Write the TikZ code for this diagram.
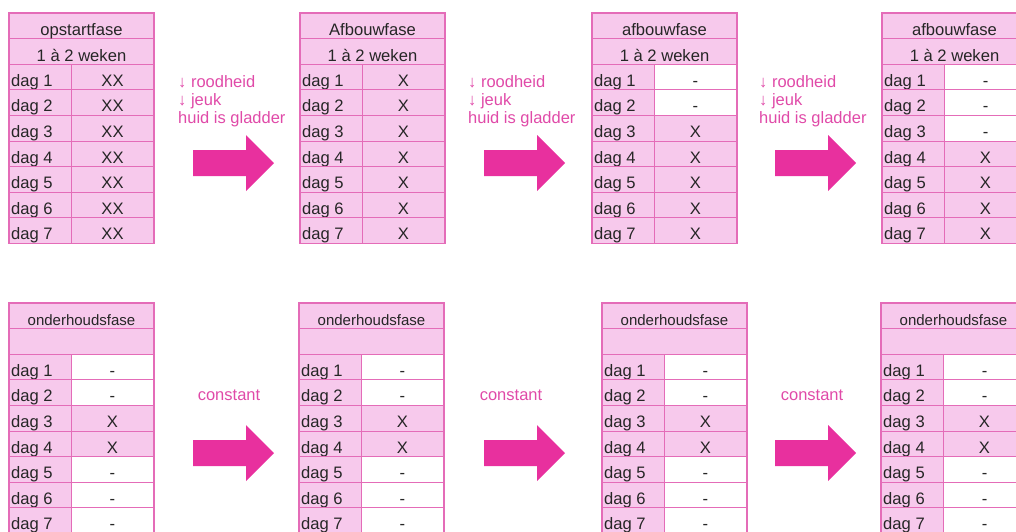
\documentclass[tikz,border=0pt]{standalone}
\usepackage{fontspec}
\setmainfont{Liberation Sans}
\definecolor{pinkfill}{HTML}{F7C9EC}
\definecolor{pinkline}{HTML}{E46CB8}
\definecolor{arrowpink}{HTML}{E8309E}
\definecolor{textpink}{HTML}{E04AA8}
\definecolor{darktext}{HTML}{262626}
\tikzset{
 celltext/.style={anchor=base, inner sep=0pt, text=darktext, font=\fontsize{16.6}{19}\selectfont},
 daglabel/.style={celltext, anchor=base west},
 sidetext/.style={anchor=base west, inner sep=0pt, text=textpink, font=\fontsize{16.5}{19}\selectfont},
 midtext/.style={sidetext, anchor=base},
 bigarrow/.style={fill=arrowpink},
 tabframe/.style={draw=pinkline, line width=1.4pt},
 tabrule/.style={draw=pinkline, line width=0.9pt},
}
\newcommand\phtable[6]{%
 \begin{scope}[shift={(#2,#3)}]
  \fill[pinkfill] (0,0) rectangle (145,230.4);
  \foreach \cc/\vv [count=\i] in {#6} {
    \fill[\cc] (62,{(\i+1)*25.6}) rectangle (145,{(\i+2)*25.6});
    \node[celltext] (#1-v\i) at (103.5,{(\i+2)*25.6-3.5}) {\vv};
    \node[daglabel] (#1-d\i) at (2,{(\i+2)*25.6-3.5}) {dag \i};
  }
  \foreach \k in {1,...,8} \draw[tabrule] (0,{\k*25.6}) -- (145,{\k*25.6});
  \draw[tabrule] (62,51.2) -- (62,230.4);
  \draw[tabframe] (0,0) rectangle (145,230.4);
  \node[celltext] (#1-h) at (72.5,22.6) {#4};
  \node[celltext] (#1-s) at (72.5,48.2) {#5};
 \end{scope}}
\newcommand\bigarr[3]{%
 \coordinate (#1) at (#2,#3);
 \fill[bigarrow] (#1) ++(0,-13) -- ++(53,0) -- ++(0,-15) -- ++(28,28) -- ++(-28,28) -- ++(0,-15) -- ++(-53,0) -- cycle;}
\newcommand\ohf{{\fontsize{15}{18}\selectfont onderhoudsfase}}
\begin{document}
\begin{tikzpicture}[x=1pt,y=-1pt]
\useasboundingbox (0,0) rectangle (1016,531);
\clip (0,0) rectangle (1016,531);
% top row
\phtable{t1}{9}{13}{opstartfase}{1 à 2 weken}{pinkfill/XX,pinkfill/XX,pinkfill/XX,pinkfill/XX,pinkfill/XX,pinkfill/XX,pinkfill/XX}
\phtable{t2}{300}{13}{Afbouwfase}{1 à 2 weken}{pinkfill/X,pinkfill/X,pinkfill/X,pinkfill/X,pinkfill/X,pinkfill/X,pinkfill/X}
\phtable{t3}{592}{13}{afbouwfase}{1 à 2 weken}{white/-,white/-,pinkfill/X,pinkfill/X,pinkfill/X,pinkfill/X,pinkfill/X}
\phtable{t4}{882}{13}{afbouwfase}{1 à 2 weken}{white/-,white/-,white/-,pinkfill/X,pinkfill/X,pinkfill/X,pinkfill/X}
\foreach \n/\ax/\tx in {1/193/178,2/484/468,3/775/759} {
  \node[sidetext] (r\n) at (\tx,87) {↓ roodheid};
  \node[sidetext] (j\n) at (\tx,105) {↓ jeuk};
  \node[sidetext] (g\n) at (\tx,123) {huid is gladder};
  \bigarr{ta\n}{\ax}{163}
}
% bottom row
\phtable{b1}{9}{303}{\ohf}{}{white/-,white/-,pinkfill/X,pinkfill/X,white/-,white/-,white/-}
\phtable{b2}{299}{303}{\ohf}{}{white/-,white/-,pinkfill/X,pinkfill/X,white/-,white/-,white/-}
\phtable{b3}{602}{303}{\ohf}{}{white/-,white/-,pinkfill/X,pinkfill/X,white/-,white/-,white/-}
\phtable{b4}{881}{303}{\ohf}{}{white/-,white/-,pinkfill/X,pinkfill/X,white/-,white/-,white/-}
\foreach \n/\ax/\tx in {1/193/229,2/484/511,3/775/812} {
  \node[midtext] (c\n) at (\tx,400) {constant};
  \bigarr{ba\n}{\ax}{453}
}
\end{tikzpicture}
\end{document}
